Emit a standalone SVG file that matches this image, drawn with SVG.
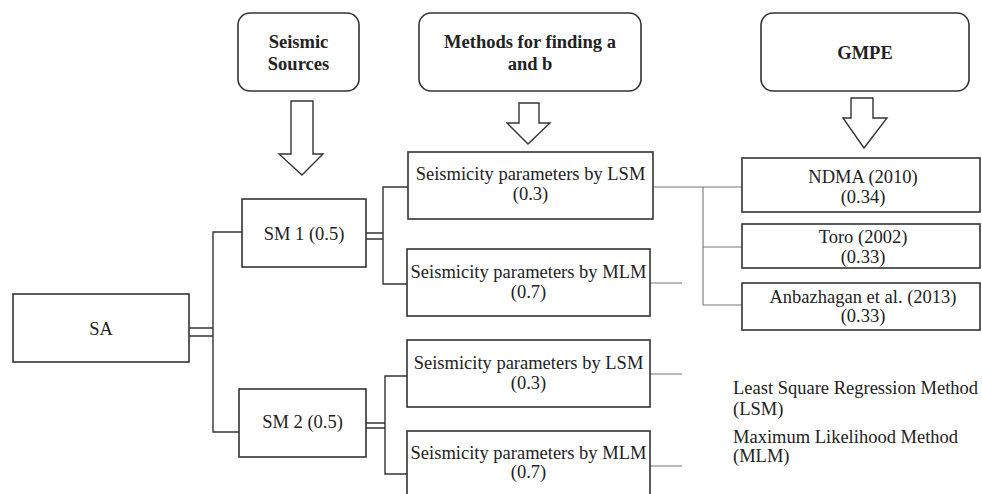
<svg xmlns="http://www.w3.org/2000/svg" width="982" height="494" viewBox="0 0 982 494">
<style>
.box{fill:#fff;stroke:#333;stroke-width:1.6}
.rbox{fill:#fff;stroke:#333;stroke-width:1.6}
.arr{fill:#fff;stroke:#333;stroke-width:1.4;stroke-linejoin:miter}
.t{font-family:"Liberation Serif","Times New Roman",serif;font-size:18.5px;fill:#222;text-anchor:middle}
.b{font-weight:bold}
.l{text-anchor:start}
.c{fill:none;stroke:#333;stroke-width:1.4}
.g{fill:none;stroke:#777;stroke-width:1.1}
</style>
<rect width="982" height="494" fill="#fff"/>
<g id="connectors">
<path class="c" d="M189 328H213M189 336H213"/>
<path class="c" d="M242 232H213V432H239"/>
<path class="c" d="M366 233H383M366 239H383"/>
<path class="c" d="M408 187H383V284H407"/>
<path class="c" d="M366 423H385M366 428H385"/>
<path class="c" d="M407 376H385V474H407"/>
<path class="g" d="M653 187H742M703 187V305H742M703 247H742"/>
<path class="g" d="M650 283H682M650 374H682M650 466H682"/>
</g>
<g id="seismic-sources">
<rect class="rbox" x="238" y="13" width="121" height="78" rx="12"/>
<text class="t b" x="298.5" y="48">Seismic</text>
<text class="t b" x="298.5" y="70">Sources</text>
</g>
<g id="arrow-sources">
<path class="arr" d="M291 101H313V154H323L302 175L279 154H291Z"/>
</g>
<g id="methods">
<rect class="rbox" x="419" y="13" width="222" height="78" rx="12"/>
<text class="t b" x="530" y="48">Methods for finding a</text>
<text class="t b" x="530" y="70">and b</text>
</g>
<g id="arrow-methods">
<path class="arr" d="M519 103H539V123H550L528 144L507 123H519Z"/>
</g>
<g id="gmpe">
<rect class="rbox" x="761" y="13" width="208" height="78" rx="12"/>
<text class="t b" x="865" y="59">GMPE</text>
</g>
<g id="arrow-gmpe">
<path class="arr" d="M851 98H873V118H887L864 148L843 118H851Z"/>
</g>
<g id="sa">
<rect class="box" x="13" y="294" width="176" height="68"/>
<text class="t" x="101" y="335">SA</text>
</g>
<g id="sm1">
<rect class="box" x="242" y="199" width="124" height="68"/>
<text class="t" x="304" y="240">SM 1 (0.5)</text>
</g>
<g id="sm2">
<rect class="box" x="239" y="389" width="127" height="68"/>
<text class="t" x="302.5" y="428">SM 2 (0.5)</text>
</g>
<g id="lsm1">
<rect class="box" x="408" y="152" width="245" height="67"/>
<text class="t" x="530.5" y="180">Seismicity parameters by LSM</text>
<text class="t" x="530.5" y="200">(0.3)</text>
</g>
<g id="mlm1">
<rect class="box" x="407" y="249" width="243" height="67"/>
<text class="t" x="528.5" y="278">Seismicity parameters by MLM</text>
<text class="t" x="528.5" y="298">(0.7)</text>
</g>
<g id="lsm2">
<rect class="box" x="407" y="340" width="243" height="67"/>
<text class="t" x="528.5" y="369">Seismicity parameters by LSM</text>
<text class="t" x="528.5" y="389">(0.3)</text>
</g>
<g id="mlm2">
<rect class="box" x="407" y="431" width="243" height="67"/>
<text class="t" x="528.5" y="459">Seismicity parameters by MLM</text>
<text class="t" x="528.5" y="478">(0.7)</text>
</g>
<g id="ndma">
<rect class="box" x="742" y="158" width="238" height="54"/>
<text class="t" x="863" y="183">NDMA (2010)</text>
<text class="t" x="863" y="203">(0.34)</text>
</g>
<g id="toro">
<rect class="box" x="742" y="224" width="238" height="44"/>
<text class="t" x="863" y="243">Toro (2002)</text>
<text class="t" x="863" y="263">(0.33)</text>
</g>
<g id="anbazhagan">
<rect class="box" x="742" y="283" width="238" height="47"/>
<text class="t" x="863" y="303">Anbazhagan et al. (2013)</text>
<text class="t" x="863" y="322">(0.33)</text>
</g>
<g id="legend">
<text class="t l" x="733" y="394">Least Square Regression Method</text>
<text class="t l" x="733" y="415">(LSM)</text>
<text class="t l" x="733" y="443">Maximum Likelihood Method</text>
<text class="t l" x="733" y="462">(MLM)</text>
</g>
</svg>
